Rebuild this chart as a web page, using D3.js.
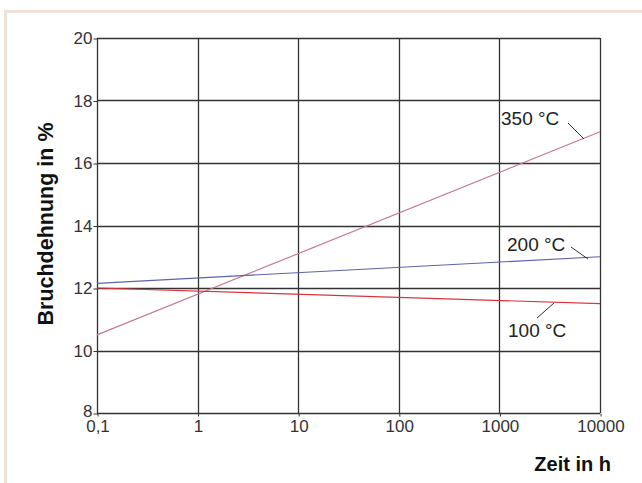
<!DOCTYPE html>
<html><head><meta charset="utf-8">
<script src="https://cdn.jsdelivr.net/npm/d3@7"></script>
<style>body{margin:0;background:#fff}svg{display:block}</style>
</head><body>
<svg id="c" width="642" height="483"></svg>
<script>
const xTicks = [0.1, 1, 10, 100, 1000, 10000];
const xTickLabels = ["0,1", "1", "10", "100", "1000", "10000"];
const yTicks = [8, 10, 12, 14, 16, 18, 20];
const seriesNames = ["350 °C", "200 °C", "100 °C"];
const seriesColors = ["#c47a92", "#5a64a8", "#d8343a"];
const times = [0.1, 10000];
const values350 = [10.5, 17.0];
const values200 = [12.15, 13.0];
const values100 = [12.0, 11.5];
const allValues = [values350, values200, values100];

const FONT = "Liberation Sans, Arial, sans-serif";
const svg = d3.select("#c");
svg.append("rect").attr("x", 5.5).attr("y", 11.5).attr("width", 700).attr("height", 600)
  .attr("fill", "none").attr("stroke", "#eee1d7").attr("stroke-width", 3);

const L = 97, R = 600, T = 38, B = 413;
const x = d3.scaleLog().domain([0.1, 10000]).range([L, R]);
const y = d3.scaleLinear().domain([8, 20]).range([B, T]);

const g = svg.append("g");
g.selectAll(".vx").data(xTicks).enter().append("line")
  .attr("x1", d => Math.round(x(d)) + 0.5).attr("x2", d => Math.round(x(d)) + 0.5)
  .attr("y1", T).attr("y2", B).attr("stroke", "#333").attr("stroke-width", 1.3);
g.selectAll(".hy").data(yTicks).enter().append("line")
  .attr("y1", d => Math.round(y(d)) + 0.5).attr("y2", d => Math.round(y(d)) + 0.5)
  .attr("x1", L).attr("x2", R).attr("stroke", "#333").attr("stroke-width", 1.3);

const yAxis = d3.axisLeft(y).tickValues(yTicks).tickSize(4).tickPadding(1).tickFormat(d3.format("d"));
const ya = svg.append("g").attr("transform", `translate(${L + 0.5},0.5)`).call(yAxis);
ya.attr("font-size", null).attr("font-family", null);
ya.select(".domain").remove();
ya.selectAll("line").attr("stroke", "#333");
ya.selectAll("text").style("font-family", FONT).style("font-size", "17px").attr("fill", "#333")
  .attr("dy", d => d === 8 ? "0.2em" : "0.32em");

const xAxis = d3.axisBottom(x).tickValues(xTicks).tickSize(3).tickPadding(3)
  .tickFormat((d, i) => xTickLabels[i]);
const xa = svg.append("g").attr("transform", `translate(0.5,${B + 0.5})`).call(xAxis);
xa.attr("font-size", null).attr("font-family", null);
xa.select(".domain").remove();
xa.selectAll("line").attr("stroke", "#333");
xa.selectAll("text").style("font-family", FONT).style("font-size", "17px").attr("fill", "#333");

const line = d3.line().x(d => x(d[0])).y(d => y(d[1]));
allValues.forEach((vals, i) => {
  svg.append("path").datum(times.map((t, j) => [t, vals[j]]))
    .attr("d", line).attr("fill", "none").attr("stroke", seriesColors[i]).attr("stroke-width", 1.2);
});

const labelInfo = [
  {t: seriesNames[0], tx: 501, ty: 125, lx1: 568, ly1: 123, lx2: 584, ly2: 139},
  {t: seriesNames[1], tx: 507, ty: 251, lx1: 571, ly1: 247, lx2: 588, ly2: 259},
  {t: seriesNames[2], tx: 508, ty: 337, lx1: 537, ly1: 318, lx2: 554, ly2: 303}
];
labelInfo.forEach(d => {
  svg.append("text").attr("x", d.tx).attr("y", d.ty).text(d.t)
    .style("font-family", FONT).style("font-size", "19px").attr("fill", "#222");
  svg.append("line").attr("x1", d.lx1).attr("y1", d.ly1).attr("x2", d.lx2).attr("y2", d.ly2)
    .attr("stroke", "#333").attr("stroke-width", 1);
});

svg.append("text").attr("transform", "translate(53,224) rotate(-90)").attr("text-anchor", "middle")
  .style("font-family", FONT).style("font-size", "21.5px").attr("font-weight", "bold")
  .attr("fill", "#111").text("Bruchdehnung in %");
svg.append("text").attr("x", 611).attr("y", 471).attr("text-anchor", "end")
  .style("font-family", FONT).style("font-size", "20px").attr("font-weight", "bold")
  .attr("fill", "#111").text("Zeit in h");
</script>
</body></html>
